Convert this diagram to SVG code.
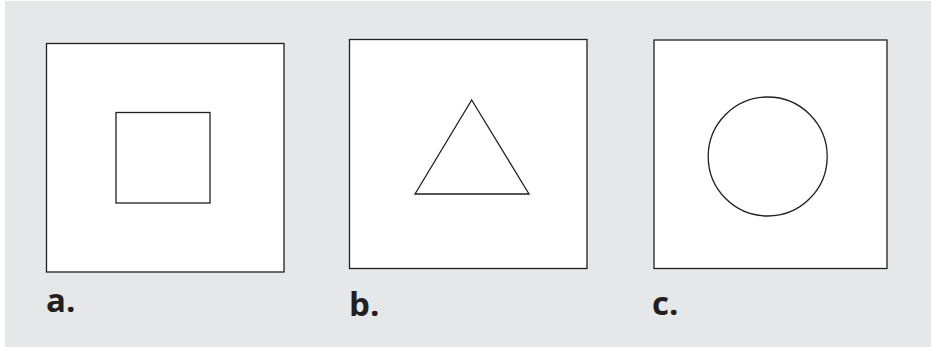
<svg xmlns="http://www.w3.org/2000/svg" width="931" height="347" viewBox="0 0 931 347">
<style>
.frame{fill:#ffffff;stroke:#231f20;stroke-width:1.3}
.shape{fill:none;stroke:#231f20;stroke-width:1.3;stroke-linejoin:miter}
.lbl{font-family:"Open Sans","Liberation Sans",sans-serif;font-weight:700;font-size:33px;fill:#231f20}
</style>
<rect x="0" y="0" width="931" height="347" fill="#ffffff"/>
<rect x="5" y="1" width="926" height="346" fill="#e6e7e9"/>
<g id="panel-a">
<rect class="frame" x="46.5" y="43.5" width="237.5" height="228.5"/>
<rect class="shape" x="116" y="112.5" width="94" height="90.5"/>
<text class="lbl" x="46" y="312">a.</text>
</g>
<g id="panel-b">
<rect class="frame" x="349.5" y="39.5" width="237.5" height="229"/>
<polygon class="shape" points="471.7,100 529,194 415,194"/>
<text class="lbl" x="349" y="316">b.</text>
</g>
<g id="panel-c">
<rect class="frame" x="654" y="40" width="233" height="228.5"/>
<circle class="shape" cx="767.7" cy="156.5" r="59.5"/>
<text class="lbl" x="652" y="315">c.</text>
</g>
</svg>
